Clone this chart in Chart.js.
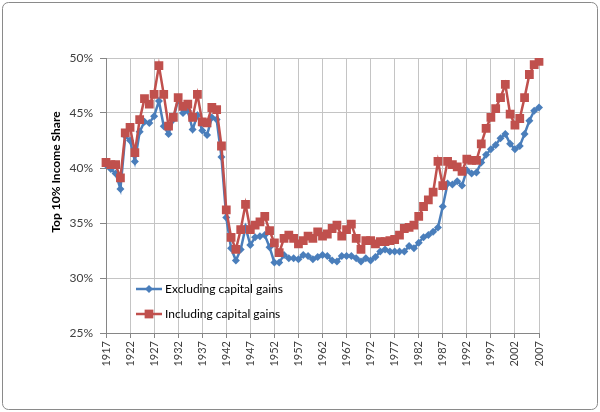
<!DOCTYPE html>
<html>
<head>
<meta charset="utf-8">
<script src="https://cdn.jsdelivr.net/npm/chart.js@4.4.0/dist/chart.umd.min.js"></script>
<style>
html,body{margin:0;padding:0;background:#fff;}
#wrap{width:600px;height:412px;}
</style>
</head>
<body>
<div id="wrap"><canvas id="c" width="600" height="412"></canvas></div>
<script>
const years = [];
for (let y = 1917; y <= 2007; y++) years.push(String(y));

const excludingCapitalGains = [
  40.3, 39.9, 39.5, 38.1, 42.9, 42.5, 40.6, 43.3, 44.2, 44.1,
  44.7, 46.1, 43.8, 43.1, 44.4, 46.3, 45.0, 45.2, 43.5, 44.8,
  43.4, 43.0, 44.6, 44.4, 41.0, 35.5, 32.7, 31.6, 32.6, 34.6,
  33.0, 33.7, 33.8, 33.9, 32.8, 31.4, 31.4, 32.1, 31.8, 31.8,
  31.7, 32.1, 32.0, 31.7, 31.9, 32.1, 32.0, 31.6, 31.5, 32.0,
  32.0, 32.0, 31.8, 31.5, 31.8, 31.6, 31.9, 32.4, 32.6, 32.4,
  32.4, 32.4, 32.4, 32.9, 32.7, 33.2, 33.7, 33.9, 34.2, 34.6,
  36.5, 38.6, 38.5, 38.8, 38.4, 39.8, 39.5, 39.6, 40.5, 41.2,
  41.7, 42.1, 42.7, 43.1, 42.2, 41.7, 42.0, 43.1, 44.3, 45.2,
  45.5
];

const includingCapitalGains = [
  40.5, 40.3, 40.3, 39.1, 43.2, 43.7, 41.4, 44.4, 46.3, 45.8,
  46.7, 49.3, 46.7, 43.8, 44.6, 46.4, 45.6, 45.8, 44.6, 46.7,
  44.2, 44.1, 45.5, 45.3, 42.0, 36.2, 33.7, 32.6, 34.4, 36.7,
  34.4, 34.8, 35.1, 35.6, 34.3, 33.2, 32.3, 33.6, 33.9, 33.6,
  33.1, 33.4, 33.8, 33.6, 34.2, 33.8, 34.0, 34.5, 34.8, 33.8,
  34.4, 34.9, 33.6, 32.6, 33.4, 33.4, 33.1, 33.3, 33.3, 33.4,
  33.5, 33.9, 34.5, 34.6, 34.8, 35.6, 36.5, 37.1, 37.8, 40.6,
  38.4, 40.6, 40.3, 40.1, 39.7, 40.8, 40.7, 40.7, 42.2, 43.6,
  44.6, 45.4, 46.4, 47.6, 44.9, 43.9, 44.5, 46.4, 48.5, 49.4,
  49.7
];

const seriesNames = ['Excluding capital gains', 'Including capital gains'];
const yTitle = 'Top 10% Income Share';

const BLUE = '#4a7ebb';
const RED = '#c0504d';

const bgPlugin = {
  id: 'bgBorder',
  beforeDraw(chart) {
    const c = chart.ctx;
    c.save();
    c.fillStyle = '#ffffff';
    c.fillRect(0, 0, chart.width, chart.height);
    c.strokeStyle = '#8a8a8a';
    c.lineWidth = 1;
    c.beginPath();
    if (c.roundRect) c.roundRect(2.5, 2.5, chart.width - 5, chart.height - 5, 6);
    else c.rect(2.5, 2.5, chart.width - 5, chart.height - 5);
    c.stroke();
    c.restore();
  },
  afterDraw(chart) {
    const c = chart.ctx;
    const ca = chart.chartArea;
    // y-axis title
    c.save();
    c.translate(56, 172);
    c.rotate(-Math.PI / 2);
    c.font = 'bold 12px Lato';
    c.fillStyle = '#000';
    c.textAlign = 'center';
    c.textBaseline = 'middle';
    c.fillText(yTitle, 0, 0);
    c.restore();
    // legend inside plot area
    const items = [
      {ds: chart.data.datasets[0], y: 289},
      {ds: chart.data.datasets[1], y: 314}
    ];
    items.forEach(it => {
      const ds = it.ds;
      const x0 = ca.left + 30, x1 = ca.left + 56, xm = (x0 + x1) / 2;
      c.save();
      c.strokeStyle = ds.borderColor;
      c.lineWidth = ds.borderWidth;
      c.beginPath();
      c.moveTo(x0, it.y);
      c.lineTo(x1, it.y);
      c.stroke();
      c.fillStyle = ds.pointBackgroundColor;
      c.beginPath();
      if (ds.pointStyle === 'rectRot') {
        const r = ds.pointRadius;
        c.moveTo(xm, it.y - r); c.lineTo(xm + r, it.y); c.lineTo(xm, it.y + r); c.lineTo(xm - r, it.y);
        c.closePath();
      } else {
        const s = ds.pointRadius * Math.SQRT1_2;
        c.rect(xm - s, it.y - s, 2 * s, 2 * s);
      }
      c.fill();
      c.font = '12px Lato';
      c.fillStyle = '#000';
      c.textAlign = 'left';
      c.textBaseline = 'middle';
      c.fillText(ds.label, x1 + 3, it.y);
      c.restore();
    });
  }
};

new Chart(document.getElementById('c'), {
  type: 'line',
  data: {
    labels: years,
    datasets: [
      {
        label: seriesNames[0],
        data: excludingCapitalGains,
        borderColor: BLUE,
        backgroundColor: BLUE,
        pointBackgroundColor: BLUE,
        pointBorderColor: BLUE,
        borderWidth: 2.5,
        pointStyle: 'rectRot',
        pointRadius: 4,
        pointBorderWidth: 0,
        tension: 0,
        order: 2
      },
      {
        label: seriesNames[1],
        data: includingCapitalGains,
        borderColor: RED,
        backgroundColor: RED,
        pointBackgroundColor: RED,
        pointBorderColor: RED,
        borderWidth: 2.5,
        pointStyle: 'rect',
        pointRadius: 6.2,
        pointBorderWidth: 0,
        tension: 0,
        order: 1
      }
    ]
  },
  options: {
    responsive: false,
    animation: false,
    devicePixelRatio: 1,
    layout: {padding: {left: 0, right: 61, top: 58, bottom: 0}},
    plugins: {
      legend: {display: false},
      tooltip: {enabled: false}
    },
    scales: {
      x: {
        type: 'category',
        offset: false,
        afterFit(scale) { scale.height = 79; },
        border: {color: '#868686', width: 1},
        grid: {color: '#c4c4c4', lineWidth: 1, tickLength: 5, tickColor: '#868686'},
        ticks: {
          autoSkip: false,
          minRotation: 90,
          maxRotation: 90,
          padding: 3,
          color: '#404040',
          font: {family: 'Lato', size: 11},
          callback(v, i) { return i % 5 === 0 ? years[i] : null; }
        }
      },
      y: {
        min: 25,
        max: 50,
        afterFit(scale) { scale.width = 106; },
        border: {color: '#868686', width: 1},
        grid: {color: '#c4c4c4', lineWidth: 1, tickLength: 6, tickColor: '#868686'},
        ticks: {
          stepSize: 5,
          padding: 7,
          color: '#404040',
          font: {family: 'Lato', size: 12},
          callback(v) { return v + '%'; }
        }
      }
    }
  },
  plugins: [bgPlugin]
});
</script>
</body>
</html>
